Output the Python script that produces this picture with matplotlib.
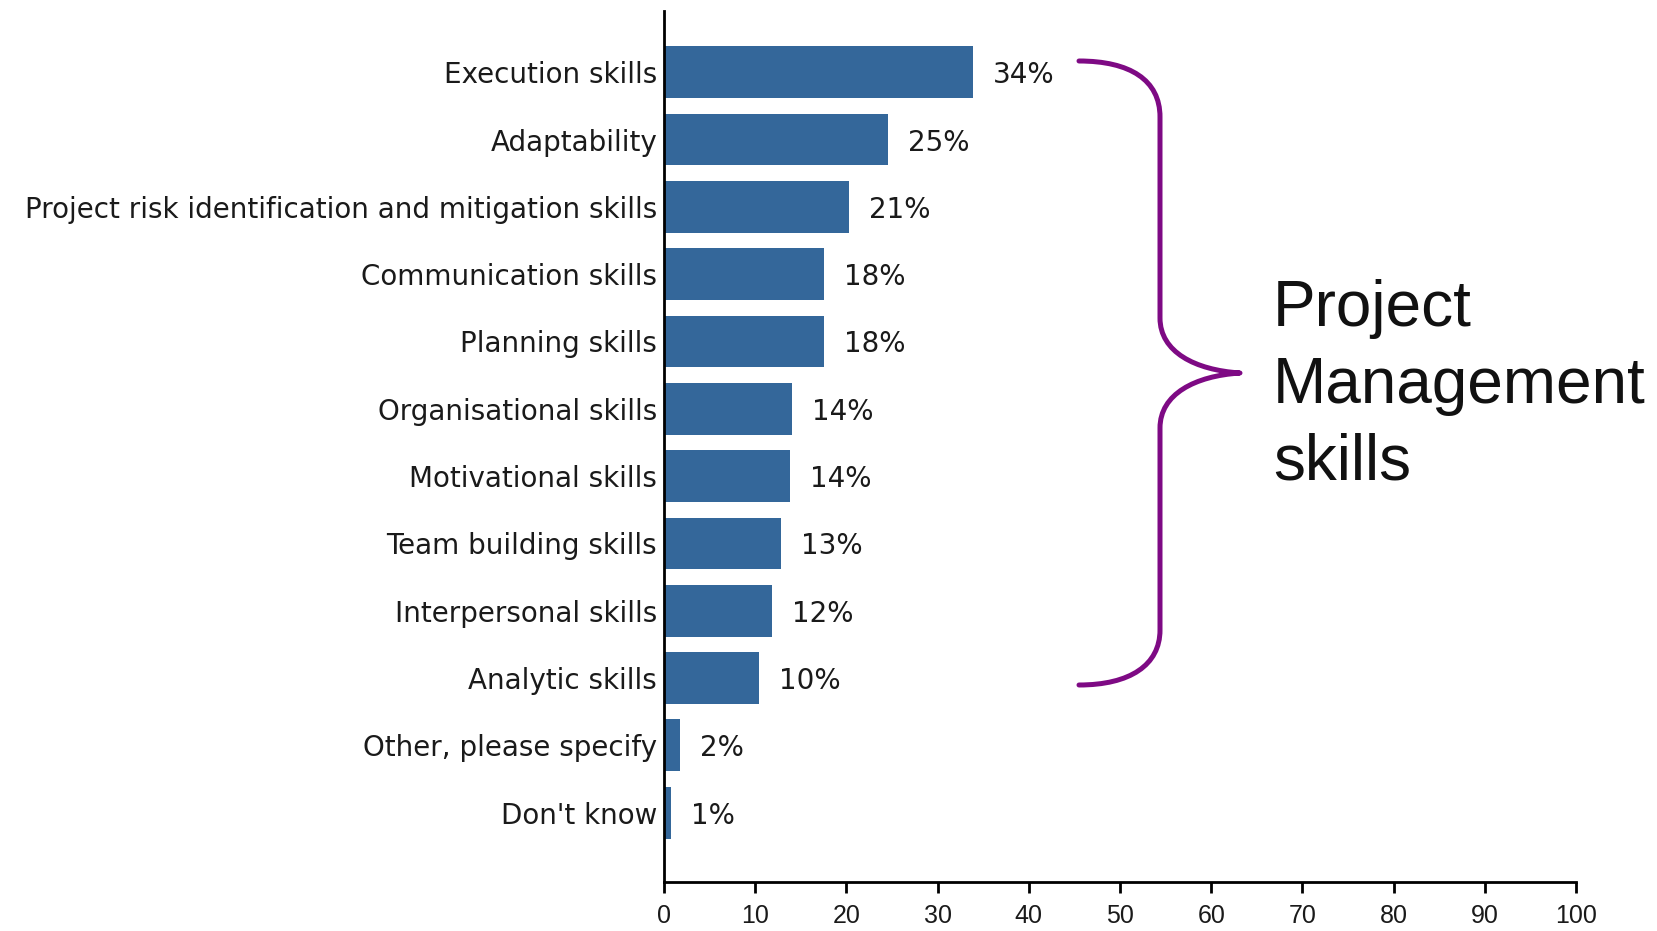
import matplotlib
matplotlib.use("Agg")
import matplotlib.pyplot as plt
from matplotlib.path import Path
from matplotlib.patches import PathPatch

plt.rcParams['font.family'] = ['Liberation Sans', 'DejaVu Sans']

categories = ["Execution skills", "Adaptability",
              "Project risk identification and mitigation skills",
              "Communication skills", "Planning skills", "Organisational skills",
              "Motivational skills", "Team building skills", "Interpersonal skills",
              "Analytic skills", "Other, please specify", "Don't know"]
values = [33.9, 24.6, 20.3, 17.5, 17.5, 14.0, 13.8, 12.8, 11.8, 10.4, 1.7, 0.8]
value_labels = ["34%", "25%", "21%", "18%", "18%", "14%", "14%", "13%", "12%", "10%", "2%", "1%"]
xticks = [0, 10, 20, 30, 40, 50, 60, 70, 80, 90, 100]
group_label = ["Project", "Management", "skills"]

W, H = 1658, 931
fig = plt.figure(figsize=(W / 100, H / 100), dpi=100)
fig.patch.set_facecolor("white")

label_font = dict(family=["DejaVu Sans"], size=20)

ax = fig.add_axes([664 / W, 1 - 882 / H, (1576 - 664) / W, (882 - 11) / H])
ypos = list(range(len(categories)))
ax.barh(ypos, values, height=0.77, color="#34679A", zorder=2)
ax.set_ylim(12.03, -0.91)
ax.set_xlim(0, 100)
ax.set_yticks(ypos)
ax.set_yticklabels(categories, color="#1a1a1a", va="center_baseline", **label_font)
ax.tick_params(axis="y", length=0, pad=5)
ax.set_xticks(xticks)
ax.set_xticklabels([str(t) for t in xticks], fontsize=18, color="#1a1a1a")
ax.tick_params(axis="x", length=8, width=2, direction="out", pad=8)
for s in ("top", "right"):
    ax.spines[s].set_visible(False)
for s in ("left", "bottom"):
    ax.spines[s].set_linewidth(2)
    ax.spines[s].set_color("black")

for y, v, lab in zip(ypos, values, value_labels):
    ax.text(v + 2.2, y, lab, va="center_baseline", ha="left", color="#1a1a1a", **label_font)

# overlay in pixel coordinates for the brace and group label
ov = fig.add_axes([0, 0, 1, 1], facecolor="none")
ov.set_xlim(0, W)
ov.set_ylim(H, 0)
ov.axis("off")

verts = [(1079, 61), (1130, 61), (1160, 80), (1160, 117),
         (1160, 318),
         (1160, 352), (1195, 370), (1240, 373),
         (1195, 376), (1160, 394), (1160, 428),
         (1160, 630),
         (1160, 665), (1130, 685), (1079, 685)]
codes = [Path.MOVETO, Path.CURVE4, Path.CURVE4, Path.CURVE4,
         Path.LINETO,
         Path.CURVE4, Path.CURVE4, Path.CURVE4,
         Path.CURVE4, Path.CURVE4, Path.CURVE4,
         Path.LINETO,
         Path.CURVE4, Path.CURVE4, Path.CURVE4]
ov.add_patch(PathPatch(Path(verts, codes), facecolor="none", edgecolor="#7E0A84",
                       lw=3.6, capstyle="round", joinstyle="round"))

for i, line in enumerate(group_label):
    ov.text(1273, 326 + i * 77, line, fontsize=46, color="#111111",
            ha="left", va="baseline")

fig.savefig("out.png", dpi=100, facecolor="white")
